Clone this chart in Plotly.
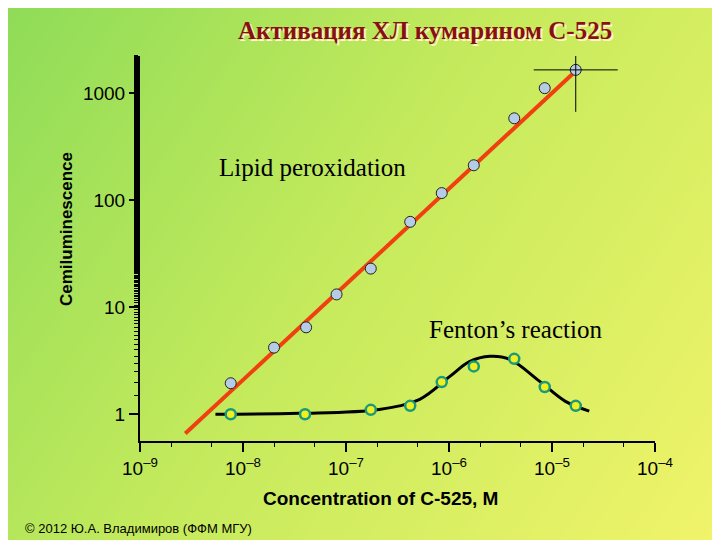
import plotly.graph_objects as go
import numpy as np

lipid_x = [7.6e-9, 2.0e-8, 4.1e-8, 8.1e-8, 1.74e-7, 4.2e-7, 8.5e-7, 1.74e-6, 4.3e-6, 8.5e-6, 1.7e-5]
lipid_y = [1.95, 4.2, 6.5, 13.2, 23, 63, 117, 213, 585, 1120, 1660]
fit_x = [2.75e-9, 1.7e-5]
fit_y = [0.66, 1620]
fenton_x = [7.6e-9, 4.0e-8, 1.74e-7, 4.2e-7, 8.5e-7, 1.74e-6, 4.3e-6, 8.5e-6, 1.7e-5]
fenton_y = [1.0, 1.0, 1.1, 1.2, 2.0, 2.8, 3.3, 1.8, 1.2]
curve_x = [5.4e-9, 3.5e-8, 2.1e-7, 5.2e-7, 1.02e-6, 1.58e-6, 2.5e-6, 3.9e-6, 7.6e-6, 1.35e-5, 2.3e-5]
curve_y = [1.0, 1.02, 1.11, 1.38, 2.26, 3.1, 3.48, 3.26, 2.03, 1.32, 1.07]
x_ticks = [1e-9, 1e-8, 1e-7, 1e-6, 1e-5, 1e-4]
x_ticktext = ["10<sup>–9</sup>", "10<sup>–8</sup>", "10<sup>–7</sup>", "10<sup>–6</sup>", "10<sup>–5</sup>", "10<sup>–4</sup>"]
y_ticks = [1, 10, 100, 1000]
y_ticktext = ["1", "10", "100", "1000"]

DX, DY = -8, -7
def px(x): return (x + DX) / 720
def py(y): return 1 - (y + DY) / 540

fig = go.Figure()
gx = np.linspace(0, 1, 30)
gy = np.linspace(0, 1, 30)
Z = [[(x + (1 - y) * 0.5) for x in gx] for y in gy]
fig.add_trace(go.Heatmap(x=gx, y=gy, z=Z, zsmooth="best", showscale=False, hoverinfo="skip",
                         colorscale=[[0, "#8fdc58"], [0.45, "#c4ea5c"], [1, "#f2f46a"]],
                         xaxis="x", yaxis="y"))

fig.add_trace(go.Scatter(x=fit_x, y=fit_y, mode="lines", line=dict(color="#f04010", width=4),
                         xaxis="x2", yaxis="y2"))
fig.add_trace(go.Scatter(x=curve_x, y=curve_y, mode="lines", line=dict(color="black", width=3, shape="spline"),
                         xaxis="x2", yaxis="y2"))
fig.add_trace(go.Scatter(x=lipid_x, y=lipid_y, mode="markers",
                         marker=dict(size=11, color="#b4cce4", line=dict(color="#222", width=1)),
                         xaxis="x2", yaxis="y2"))
fig.add_trace(go.Scatter(x=[lipid_x[-1]], y=[lipid_y[-1]], mode="markers",
                         marker=dict(size=60, symbol="cross-thin-open", color="black", line=dict(color="black", width=1)),
                         xaxis="x2", yaxis="y2"))
fig.add_trace(go.Scatter(x=fenton_x, y=fenton_y, mode="markers",
                         marker=dict(size=10, color="#f0f020", line=dict(color="#1a9a7a", width=2.5)),
                         xaxis="x2", yaxis="y2"))

axfont = dict(family="Liberation Sans", size=19, color="black")
fig.update_layout(
    width=720, height=540, margin=dict(l=0, r=0, t=0, b=0, autoexpand=False), showlegend=False,
    paper_bgcolor="#c0e85c", plot_bgcolor="rgba(0,0,0,0)",
    xaxis=dict(domain=[0, 1], range=[0, 1], visible=False, fixedrange=True, automargin=False),
    yaxis=dict(domain=[0, 1], range=[0, 1], visible=False, fixedrange=True, automargin=False),
    xaxis2=dict(domain=[px(140), px(655)], anchor="y2", type="log", range=[-9, -4], automargin=False,
                tickvals=x_ticks, ticktext=x_ticktext, showgrid=False, zeroline=False,
                showline=True, linecolor="black", linewidth=2, ticks="outside", ticklen=9,
                tickwidth=2, tickcolor="black",
                minor=dict(ticks="outside", ticklen=4, tickwidth=1, tickcolor="black", showgrid=False),
                tickfont=axfont),
    yaxis2=dict(domain=[py(440), py(55)], anchor="x2", type="log", range=[-0.25, 3.35], automargin=False,
                tickvals=y_ticks, ticktext=y_ticktext, showgrid=False, zeroline=False,
                showline=True, linecolor="black", linewidth=2, ticks="outside", ticklen=9,
                tickwidth=2, tickcolor="black",
                minor=dict(ticks="outside", ticklen=4, tickwidth=1, tickcolor="black", showgrid=False),
                tickfont=axfont),
)
anns = [
    dict(x=427, y=31, text="<b>Активация ХЛ кумарином С-525</b>", font=dict(family="Liberation Serif", size=25, color="#fff4c8")),
    dict(x=425, y=29, text="<b>Активация ХЛ кумарином С-525</b>", font=dict(family="Liberation Serif", size=25, color="#8a1010")),
    dict(x=312, y=166, text="Lipid peroxidation", font=dict(family="Liberation Serif", size=25, color="black")),
    dict(x=515, y=328, text="Fenton’s reaction", font=dict(family="Liberation Serif", size=25, color="black")),
    dict(x=380, y=497, text="<b>Concentration of C-525, M</b>", font=dict(family="Liberation Sans", size=19, color="black")),
    dict(x=66, y=228, text="<b>Cemiluminescence</b>", textangle=-90, font=dict(family="Liberation Sans", size=17, color="black")),
    dict(x=138, y=527, text="© 2012 Ю.А. Владимиров (ФФМ МГУ)", font=dict(family="Liberation Sans", size=13, color="black")),
]
for a in anns:
    a.update(xref="x", yref="y", showarrow=False)
    a["x"] = px(a["x"])
    a["y"] = py(a["y"])
fig.update_layout(annotations=anns)
fig.write_html("out.html")
